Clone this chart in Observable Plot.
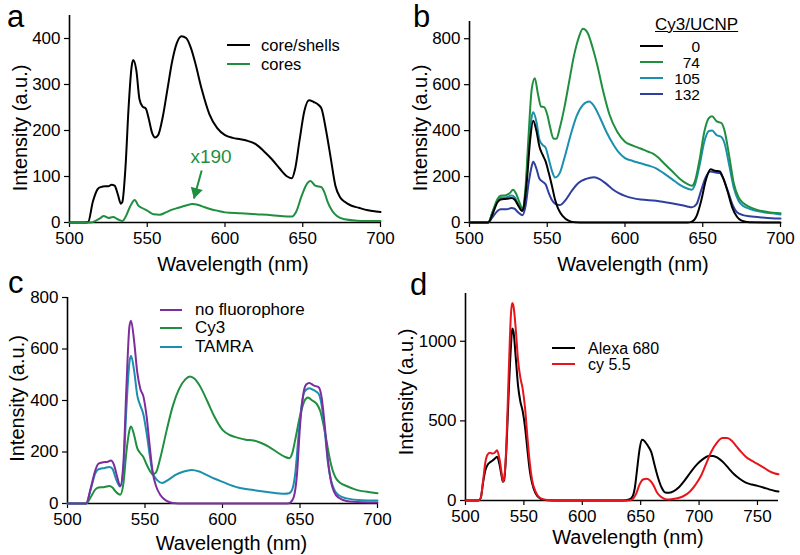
<!DOCTYPE html>
<html>
<head>
<meta charset="utf-8">
<script src="https://cdn.jsdelivr.net/npm/d3@7"></script>
<script src="https://cdn.jsdelivr.net/npm/@observablehq/plot@0.6"></script>
<style>
  html, body { margin: 0; padding: 0; background: #fff; }
  #fig { position: relative; width: 800px; height: 555px; overflow: hidden; font-family: "Liberation Sans", Arial, sans-serif; color: #000; }
  .pnl { position: absolute; }
  .letter { position: absolute; font-size: 31px; line-height: 34px; }
  .lg { position: absolute; font-size: 17px; line-height: 16px; height: 16px; white-space: nowrap; }
  .sw { position: absolute; height: 0; }
</style>
</head>
<body>
<div id="fig"></div>
<script>
// ---------------- data (wavelength nm, intensity a.u.) ----------------
const xTicksABC = [500, 550, 600, 650, 700];
const xTicksD = [500, 550, 600, 650, 700, 750];
const yTicksA = [0, 100, 200, 300, 400];
const yTicksB = [0, 200, 400, 600, 800];
const yTicksC = [0, 200, 400, 600, 800];
const yTicksD = [0, 500, 1000];

// panel a
const aCoreShells = [[500,0],[510,0],[512,1],[515,45],[518,72],[520,77],[523,79],[525,79],[527,82],[529,80],[531,62],[533,41],[534,45],[536,120],[538,250],[540,340],[541,353],[543,330],[545,268],[547,252],[549,248],[551,225],[553,196],[555,185],[557,190],[560,230],[563,290],[566,350],[569,390],[572,405],[575,401],[578,380],[581,345],[585,290],[590,235],[595,205],[600,190],[605,184],[610,181],[615,177],[620,170],[625,155],[630,138],[635,118],[640,100],[643,96],[645,115],[648,180],[651,242],[654,266],[657,262],[660,256],[662,248],[665,200],[668,140],[671,80],[674,55],[677,45],[681,37],[686,32],[690,28],[695,25],[700,23]];
const aCores = [[500,0],[514,0],[517,4],[520,10],[522,14],[525,10],[528,12],[531,7],[534,3],[536,12],[539,35],[542,49],[544,38],[547,31],[550,26],[554,18],[558,17],[562,22],[566,28],[570,32],[575,37],[579,40],[583,38],[587,33],[591,29],[596,25],[600,22],[610,20],[620,18],[630,16],[640,13],[643,13],[646,25],[649,55],[652,80],[655,90],[658,80],[662,77],[664,65],[666,45],[669,25],[672,14],[677,7],[685,4],[700,3]];
const aNote = [{wl: 591, I: 142, label: "x190"}];
const aArrow = [{wl1: 585, I1: 113, wl2: 580, I2: 52}];

// panel b  (Cy3/UCNP ratio)
const b0 = [[500,0],[512,0],[515,40],[518,88],[520,100],[524,103],[527,107],[529,100],[531,78],[534,50],[535,70],[537,190],[539,360],[541,443],[543,400],[545,330],[547,295],[549,265],[551,215],[553,160],[555,100],[557,60],[560,28],[564,7],[568,1],[575,0],[640,0],[643,4],[646,28],[649,95],[652,185],[655,232],[658,225],[661,222],[663,195],[666,135],[669,65],[672,25],[675,8],[680,1],[700,0]];
const b74 = [[500,0],[512,0],[515,50],[518,102],[520,116],[523,118],[526,128],[528,143],[530,125],[532,90],[534,62],[536,150],[538,380],[540,580],[542,628],[544,560],[546,505],[548,502],[550,470],[552,410],[554,365],[556,365],[558,410],[561,500],[564,610],[567,720],[570,800],[573,843],[576,825],[579,765],[582,690],[586,570],[590,470],[595,395],[600,352],[605,335],[610,322],[615,308],[618,300],[621,285],[625,258],[630,225],[635,192],[640,168],[643,160],[645,180],[648,275],[651,395],[654,455],[656,462],[659,440],[662,433],[664,400],[667,290],[670,170],[673,110],[676,85],[680,68],[685,55],[690,48],[695,43],[700,40]];
const b105 = [[500,0],[512,0],[515,48],[518,95],[520,108],[524,110],[527,117],[529,110],[531,85],[534,55],[536,130],[538,330],[540,460],[541,480],[543,440],[545,360],[547,338],[549,325],[551,275],[553,225],[555,196],[558,215],[561,280],[565,380],[569,465],[573,512],[577,527],[580,508],[584,455],[588,395],[592,345],[596,305],[600,280],[605,268],[610,258],[615,248],[620,236],[625,214],[630,190],[635,165],[640,148],[643,143],[645,165],[648,250],[651,352],[654,398],[656,400],[659,380],[662,372],[664,345],[667,250],[670,150],[673,95],[676,72],[680,60],[685,50],[690,44],[695,40],[700,35]];
const b132 = [[500,0],[512,0],[515,25],[518,50],[520,58],[524,58],[527,63],[529,60],[531,46],[534,32],[536,70],[538,170],[540,245],[541,265],[543,235],[545,190],[547,178],[549,165],[551,128],[553,98],[555,82],[558,76],[562,100],[566,140],[570,172],[575,190],[580,197],[584,188],[588,168],[592,145],[596,128],[600,116],[605,106],[610,100],[620,95],[630,84],[640,70],[643,66],[646,80],[649,140],[652,198],[655,222],[658,218],[661,215],[663,195],[666,140],[669,80],[672,45],[676,32],[680,27],[690,21],[700,17]];
const bLabels = ["0", "74", "105", "132"];

// panel c
const cNone = [[500,0],[512,0],[515,60],[518,130],[520,155],[523,160],[526,162],[528,167],[530,150],[532,105],[534,68],[536,150],[538,450],[540,690],[541,710],[543,630],[545,510],[547,445],[549,415],[551,340],[553,225],[555,120],[557,70],[560,32],[564,10],[568,2],[575,0],[642,0],[644,5],[646,25],[648,110],[650,300],[652,420],[654,462],[656,468],[659,458],[662,452],[664,410],[666,300],[668,170],[670,85],[672,45],[675,22],[680,10],[690,5],[700,4]];
const cCy3 = [[500,0],[512,0],[515,25],[518,55],[520,62],[524,64],[527,68],[529,62],[531,47],[534,34],[536,75],[538,200],[540,285],[541,299],[543,265],[545,215],[547,195],[549,180],[551,152],[553,128],[555,113],[557,120],[560,180],[564,285],[568,380],[572,445],[576,482],[579,493],[582,484],[586,450],[590,400],[595,335],[600,286],[605,265],[610,255],[615,248],[620,245],[625,235],[630,220],[635,200],[640,182],[643,176],[645,195],[647,250],[650,340],[653,400],[655,412],[658,400],[661,385],[663,360],[666,280],[669,180],[671,130],[673,100],[676,80],[680,68],[685,56],[690,48],[695,44],[700,40]];
const cTamra = [[500,0],[512,0],[515,55],[518,118],[520,133],[524,138],[527,142],[529,135],[531,100],[534,66],[536,130],[538,370],[540,550],[541,574],[543,515],[545,420],[547,380],[549,345],[551,275],[553,190],[555,118],[558,90],[561,80],[565,92],[570,112],[575,124],[580,130],[585,124],[590,110],[595,96],[600,84],[610,62],[620,52],[630,44],[640,38],[643,40],[645,55],[647,120],[649,260],[651,380],[653,435],[656,448],[659,440],[662,426],[664,380],[666,280],[668,160],[670,90],[672,55],[675,32],[680,20],[690,13],[700,12]];

// panel d
const dAlexa = [[500,0],[511,0],[513,15],[515,110],[517,190],[519,225],[521,240],[523,250],[525,262],[527,275],[529,230],[531,150],[532,118],[533,125],[535,320],[537,680],[539,980],[540,1080],[541,1065],[543,900],[545,720],[547,620],[549,560],[551,460],[553,320],[555,190],[557,110],[560,45],[564,12],[570,2],[580,0],[635,0],[640,6],[643,25],[645,80],[647,200],[649,320],[651,382],[653,375],[656,345],[659,305],[662,220],[665,140],[668,80],[671,50],[674,48],[678,58],[683,85],[688,130],[693,180],[698,225],[703,258],[708,279],[712,280],[716,268],[720,245],[725,205],[730,165],[735,135],[740,112],[745,100],[750,92],[755,82],[760,70],[765,60],[768,57]];
const dCy55 = [[500,0],[511,0],[513,15],[515,120],[517,240],[519,290],[521,300],[523,295],[525,300],[527,315],[529,265],[531,170],[532,120],[533,135],[535,350],[537,800],[539,1180],[540,1240],[541,1225],[543,1080],[545,880],[547,770],[549,700],[551,580],[553,400],[555,240],[557,130],[560,55],[564,15],[570,3],[580,0],[640,0],[643,8],[646,40],[649,100],[652,132],[655,136],[658,125],[661,95],[664,50],[667,25],[670,12],[674,6],[680,12],[686,25],[692,55],[697,100],[702,160],[706,230],[710,300],[715,360],[720,392],[724,392],[728,375],[732,340],[736,305],[740,275],[745,250],[750,230],[755,208],[760,185],[765,170],[768,165]];

// ---------------- rendering ----------------
const FONT = '"Liberation Sans", Arial, sans-serif';
const rows = (pairs) => pairs.map(([wl, I]) => ({wl, I}));
const fig = document.getElementById("fig");
const plain = (d) => String(d);

function panel(o) {
  const marks = [
    Plot.ruleY([o.yDomain[0]], {stroke: "#000", strokeWidth: 1.6}),
    Plot.ruleX([o.xDomain[0]], {stroke: "#000", strokeWidth: 1.6}),
    Plot.axisX({ticks: o.xTicks, tickFormat: plain, tickSize: 5, tickPadding: 4, fontSize: 17, label: null, strokeWidth: 1.2}),
    Plot.axisY({ticks: o.yTicks, tickFormat: plain, tickSize: 5, tickPadding: 4, fontSize: 17, label: null, strokeWidth: 1.2}),
    ...o.series.map(s => Plot.line(rows(s.data), {x: "wl", y: "I", stroke: s.color, strokeWidth: 2, curve: "monotone-x"})),
    Plot.text(["Intensity (a.u.)"], {frameAnchor: "left", rotate: -90, textAnchor: "middle", lineAnchor: "middle", dx: o.yt[0], dy: o.yt[1], fontSize: 20}),
    Plot.text(["Wavelength (nm)"], {frameAnchor: "bottom", textAnchor: "middle", lineAnchor: "middle", dx: o.xt[0], dy: o.xt[1], fontSize: 20}),
    ...(o.extra || [])
  ];
  const svg = Plot.plot({
    width: o.width, height: o.height,
    marginLeft: o.m[0], marginRight: o.m[1], marginTop: o.m[2], marginBottom: o.m[3],
    x: {domain: o.xDomain},
    y: {domain: o.yDomain},
    style: {fontFamily: FONT, fontSize: "17px", background: "transparent", overflow: "visible"},
    marks
  });
  const wrap = document.createElement("div");
  wrap.className = "pnl";
  wrap.style.left = o.left + "px";
  wrap.style.top = o.top + "px";
  wrap.appendChild(svg);
  fig.appendChild(wrap);
}

const green = "#1f8f3f", teal = "#1b8fae", blue = "#2f3f9f", purple = "#7d2e9e", red = "#e8141c";

panel({left: 0, top: 0, width: 400, height: 270, m: [69, 20, 15, 48],
  xDomain: [500, 700], xTicks: xTicksABC, yDomain: [0, 450], yTicks: yTicksA,
  yt: [-49, 9], xt: [8, 42],
  series: [{data: aCoreShells, color: "#000"}, {data: aCores, color: green}],
  extra: [
    Plot.text(aNote, {x: "wl", y: "I", text: "label", fill: green, fontSize: 19}),
    Plot.link(aArrow, {x1: "wl1", y1: "I1", x2: "wl2", y2: "I2", stroke: green, strokeWidth: 2}),
    Plot.dot(aArrow, {x: "wl2", y: "I2", symbol: "triangle", r: 4.6, rotate: 195.6, dx: 1.9, dy: -6.7, fill: green, stroke: "none"})
  ]});

panel({left: 400, top: 0, width: 400, height: 270, m: [69, 20, 21, 48],
  xDomain: [500, 700], xTicks: xTicksABC, yDomain: [0, 875], yTicks: yTicksB,
  yt: [-49, 6], xt: [8, 42],
  series: [{data: b132, color: blue}, {data: b105, color: teal}, {data: b74, color: green}, {data: b0, color: "#000"}]});

panel({left: 0, top: 270, width: 400, height: 285, m: [67, 23, 27, 52],
  xDomain: [500, 700], xTicks: xTicksABC, yDomain: [0, 800], yTicks: yTicksC,
  yt: [-50, -2], xt: [9, 40],
  series: [{data: cCy3, color: green}, {data: cTamra, color: teal}, {data: cNone, color: purple}]});

panel({left: 400, top: 270, width: 400, height: 285, m: [65, 22, 23, 55],
  xDomain: [500, 768], xTicks: xTicksD, yDomain: [0, 1300], yTicks: yTicksD,
  yt: [-59, -5], xt: [6, 37],
  series: [{data: dAlexa, color: "#000"}, {data: dCy55, color: red}]});

// panel letters
[["a", 7, 0], ["b", 413, 0], ["c", 8, 266], ["d", 410, 268]].forEach(([t, x, y]) => {
  const d = document.createElement("div");
  d.className = "letter"; d.textContent = t;
  d.style.left = x + "px"; d.style.top = y + "px";
  fig.appendChild(d);
});

// legends
function legend(items, sx0, sx1, tx, centers, opts = {}) {
  items.forEach(([label, color], i) => {
    const cy = centers[i];
    const s = document.createElement("div");
    s.className = "sw";
    s.style.left = sx0 + "px"; s.style.width = (sx1 - sx0) + "px";
    s.style.top = (cy - 1) + "px"; s.style.borderTop = `2px solid ${color}`;
    fig.appendChild(s);
    const t = document.createElement("div");
    t.className = "lg"; t.textContent = label;
    const lh = opts.lh || 16;
    t.style.lineHeight = lh + "px"; t.style.height = lh + "px";
    t.style.top = (cy - lh / 2) + "px";
    if (opts.right) { t.style.left = (tx - 40) + "px"; t.style.width = "40px"; t.style.textAlign = "right"; }
    else t.style.left = tx + "px";
    if (opts.fs) t.style.fontSize = opts.fs + "px";
    fig.appendChild(t);
  });
}
legend([["core/shells", "#000"], ["cores", green]], 227, 250, 261, [45, 64], {fs: 16.5});
const bt = document.createElement("div");
bt.className = "lg"; bt.textContent = "Cy3/UCNP";
bt.style.left = "655px"; bt.style.top = "17px"; bt.style.textDecoration = "underline";
fig.appendChild(bt);
legend(bLabels.map((l, i) => [l, ["#000", green, teal, blue][i]]), 640, 663, 700, [46, 62, 78, 94], {right: true, lh: 15, fs: 15.5});
legend([["no fluorophore", purple], ["Cy3", green], ["TAMRA", teal]], 160, 182, 195, [310, 328, 347]);
legend([["Alexa 680", "#000"], ["cy 5.5", red]], 552, 575, 588, [348, 364], {fs: 16, lh: 15});
</script>
</body>
</html>
